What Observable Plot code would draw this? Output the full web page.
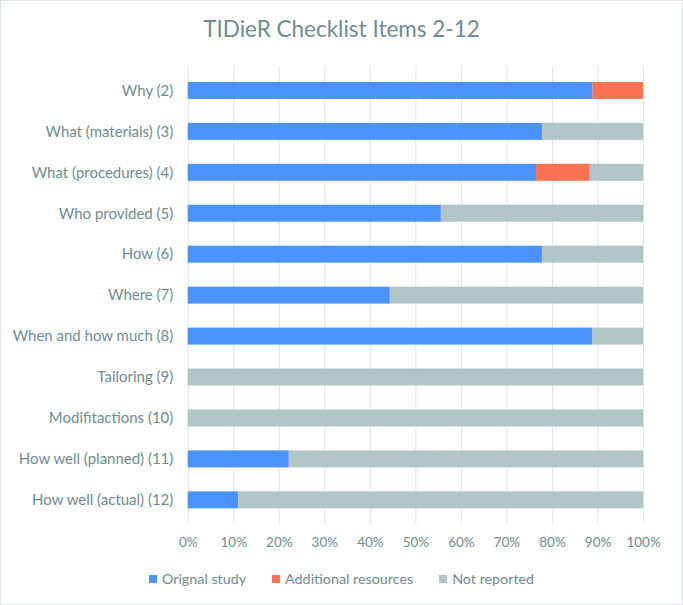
<!DOCTYPE html>
<html>
<head>
<meta charset="utf-8">
<script src="https://cdn.jsdelivr.net/npm/d3@7"></script>
<script src="https://cdn.jsdelivr.net/npm/@observablehq/plot@0.6"></script>
<style>
  html, body { margin: 0; padding: 0; background: #fff; }
  #wrap { position: relative; width: 681px; height: 603px; border: 1px solid #dbe5e8; font-family: Lato, "Open Sans", sans-serif; color: #708c92; overflow: hidden; }
  #title { position: absolute; top: 14px; left: 0; width: 100%; text-align: center; font-size: 22.5px; color: #708c92; }
  #chart { position: absolute; top: 49px; left: -1px; }
  #legend { position: absolute; top: 569px; left: 0; width: 100%; display: flex; justify-content: center; gap: 26px; font-size: 14.3px; }
  #legend span.item { display: inline-flex; align-items: center; }
  #legend span.sw { display: inline-block; width: 8px; height: 8px; margin-right: 5px; }
</style>
</head>
<body>
<div id="wrap">
  <div id="title">TIDieR Checklist Items 2-12</div>
  <div id="chart"></div>
  <div id="legend"></div>
</div>
<script>
const categories = [
  "Why (2)",
  "What (materials) (3)",
  "What (procedures) (4)",
  "Who provided (5)",
  "How (6)",
  "Where (7)",
  "When and how much (8)",
  "Tailoring (9)",
  "Modifitactions (10)",
  "How well (planned) (11)",
  "How well (actual) (12)"
];
const seriesNames = ["Orignal study", "Additional resources", "Not reported"];
const seriesColors = ["#4b93fb", "#f97352", "#b1c5c6"];
const originalStudy       = [88.9, 77.8, 76.5, 55.6, 77.8, 44.4, 88.9, 0, 0, 22.2, 11.1];
const additionalResources = [11.1, 0, 11.8, 0, 0, 0, 0, 0, 0, 0, 0];
const notReported         = [0, 22.2, 11.7, 44.4, 22.2, 55.6, 11.1, 100, 100, 77.8, 88.9];
const xTicks = [0, 10, 20, 30, 40, 50, 60, 70, 80, 90, 100];

const seriesValues = [originalStudy, additionalResources, notReported];
const rows = [];
categories.forEach((c, i) => {
  seriesNames.forEach((s, j) => {
    rows.push({category: c, series: s, value: seriesValues[j][i] / 100});
  });
});

const textColor = "#708c92";
const plot = Plot.plot({
  width: 683,
  height: 505,
  marginLeft: 188,
  marginRight: 39,
  marginTop: 16,
  marginBottom: 31,
  style: {fontFamily: "Lato, 'Open Sans', sans-serif", fontSize: "13.5px", color: textColor, background: "transparent"},
  x: {domain: [0, 1], ticks: xTicks.map(d => d / 100), tickFormat: d => Math.round(d * 100) + "%", tickSize: 0, tickPadding: 14, label: null},
  y: {domain: categories, paddingInner: 0.59, paddingOuter: 0.295, tickSize: 0, tickPadding: 15, label: null},
  color: {domain: seriesNames, range: seriesColors},
  marks: [
    Plot.gridX(xTicks.map(d => d / 100), {stroke: "#d9e6e8", strokeOpacity: 1, strokeWidth: 1}),
    Plot.barX(rows, Plot.stackX({x: "value", y: "category", fill: "series", order: seriesNames})),
    Plot.axisY({tickSize: 0, tickPadding: 15, fontSize: 15, label: null}),
    Plot.axisX({ticks: xTicks.map(d => d / 100), tickFormat: d => Math.round(d * 100) + "%", tickSize: 0, tickPadding: 14, fontSize: 13.5, label: null})
  ]
});
document.getElementById("chart").appendChild(plot);

const legend = document.getElementById("legend");
seriesNames.forEach((s, i) => {
  const item = document.createElement("span");
  item.className = "item";
  const sw = document.createElement("span");
  sw.className = "sw";
  sw.style.background = seriesColors[i];
  item.appendChild(sw);
  item.appendChild(document.createTextNode(s));
  legend.appendChild(item);
});
</script>
</body>
</html>
